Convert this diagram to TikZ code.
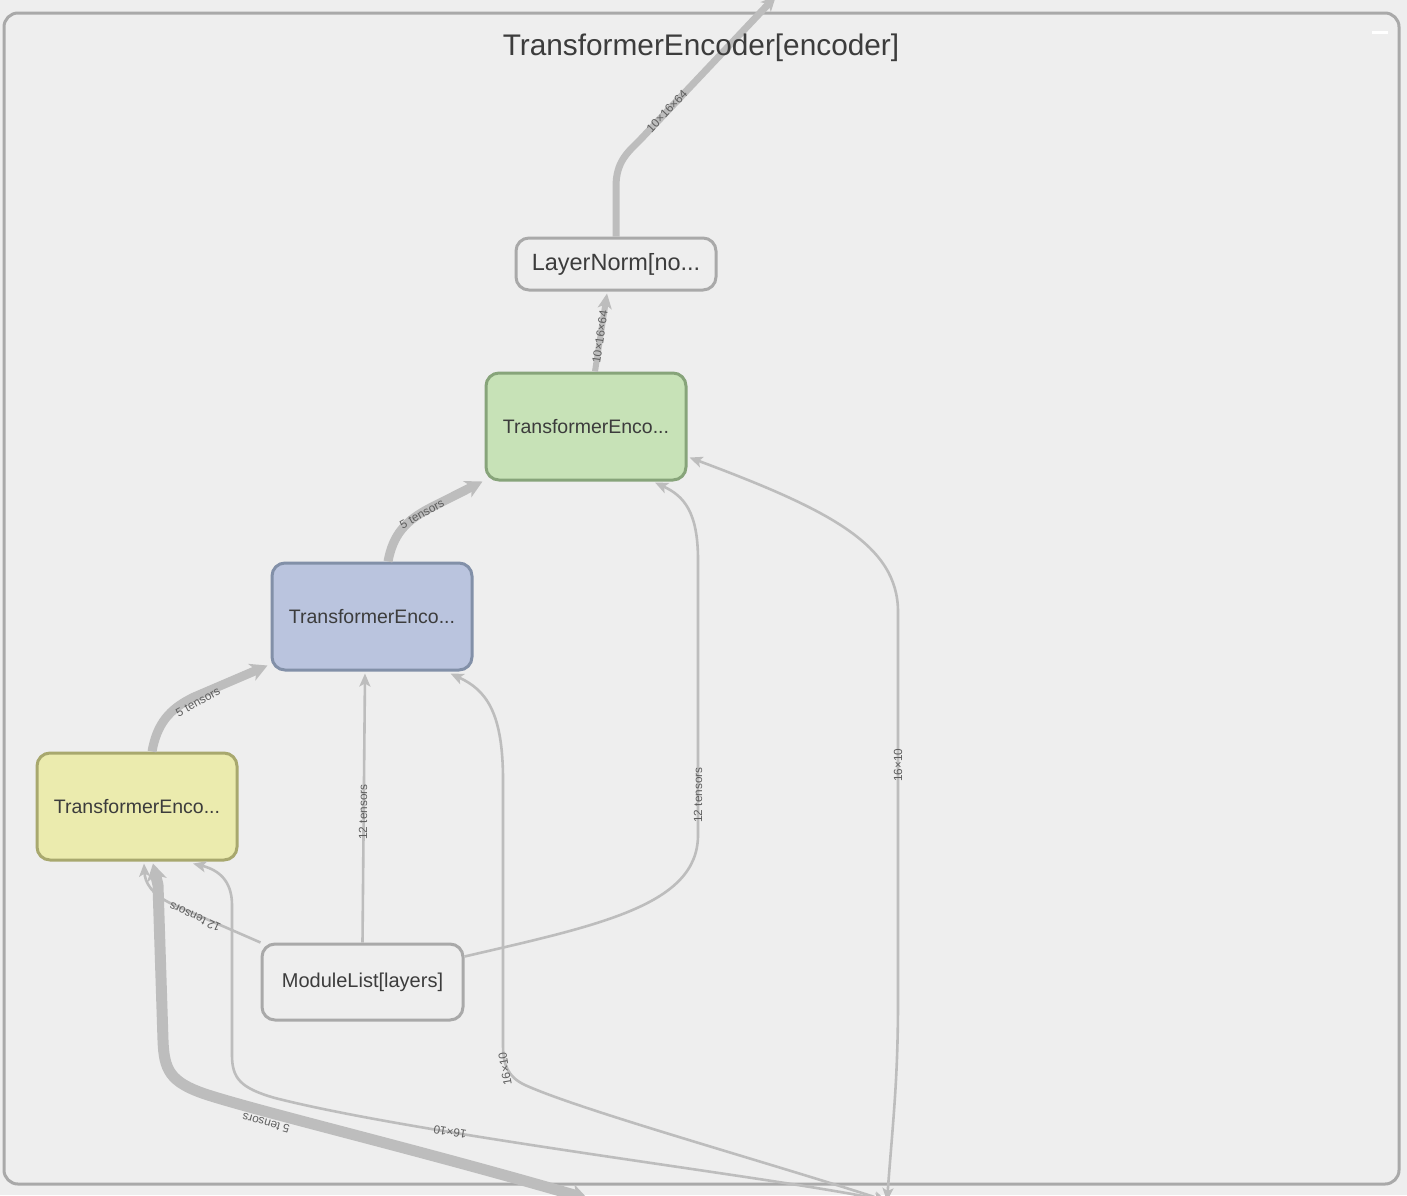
\documentclass[tikz,border=0pt]{standalone}
\usepackage{fontspec}
\setmainfont{Liberation Sans}
\usetikzlibrary{arrows.meta,calc}
\definecolor{bgc}{HTML}{EEEEEE}
\definecolor{framec}{HTML}{A9A9A9}
\definecolor{edgec}{HTML}{BDBDBD}
\definecolor{labelc}{HTML}{5E5E5E}
\definecolor{textc}{HTML}{3C3C3C}
\definecolor{greenf}{HTML}{C7E2B7}
\definecolor{greenb}{HTML}{87A47A}
\definecolor{bluef}{HTML}{BAC4DE}
\definecolor{blueb}{HTML}{8290A8}
\definecolor{yellowf}{HTML}{EBEBAE}
\definecolor{yellowb}{HTML}{A8A86E}
\tikzset{
  boxnode/.style={draw=framec, line width=3pt, rounded corners=13pt, inner sep=0pt,
    minimum width=200pt, text=textc},
  encnode/.style={boxnode, minimum height=107pt, font=\fontsize{19.5}{22}\selectfont},
  edgethin/.style={draw=edgec, line width=2.6pt,
    {Stealth[length=13pt,width=11pt,inset=3pt]}-{Stealth[length=13pt,width=11pt,inset=3pt]}},
  edgeonly/.style={draw=edgec, line width=2.6pt, -{Stealth[length=13pt,width=11pt,inset=3pt]}},
  edgemid/.style={draw=edgec, line width=6pt, -{Stealth[length=15pt,width=14pt,inset=4pt]}},
  edgewide/.style={draw=edgec, line width=9pt, -{Stealth[length=17pt,width=18pt,inset=5pt]}},
  edgefat/.style={draw=edgec, line width=11pt,
    {Stealth[length=17pt,width=20pt,inset=5pt]}-{Stealth[length=17pt,width=20pt,inset=5pt]}},
  elabel/.style={text=labelc, inner sep=0pt, font=\fontsize{11.8}{13}\selectfont}
}
\begin{document}
\begin{tikzpicture}[x=1pt,y=-1pt]
\useasboundingbox (0,0) rectangle (1407,1195);
\fill[bgc] (0,0) rectangle (1407,1195);
\begin{scope}
\clip (0,0) rectangle (1407,1195);

% group frame and collapse mark
\draw[framec, line width=3pt, rounded corners=14pt] (4,13) rectangle (1399,1184);
\fill[white] (1372,30.5) rectangle (1388,33.5);

% operation nodes
\node[boxnode, fill=bgc, minimum height=52pt, font=\fontsize{23.5}{26}\selectfont] (ln) at (616,264) {LayerNorm[no...};
\node[encnode, fill=greenf, draw=greenb] (enc2) at (586,426.5) {TransformerEnco...};
\node[encnode, fill=bluef, draw=blueb] (enc1) at (372,616.5) {TransformerEnco...};
\node[encnode, fill=yellowf, draw=yellowb] (enc0) at (137,806.5) {TransformerEnco...};
\node[boxnode, fill=bgc, minimum width=201pt, minimum height=76pt, font=\fontsize{20}{23}\selectfont] (ml) at (362.5,982) {ModuleList[layers]};

% free ends outside the group
\coordinate (outTop) at (776,-4);
\coordinate (inA) at (588,1199);
\coordinate (inB) at (887,1201);

% output of the group
\draw[edgemid, line width=7pt] (ln.north) -- ++(0,-50) .. controls +(0,-25) and +(-12,12) .. (640,140) -- (outTop);
\node[elabel, rotate=46.6] at (667,111) {10×16×64};

% title of the group, over the output edge
\node[text=textc, font=\fontsize{29.8}{34}\selectfont] (title) at (701,48) {TransformerEncoder[encoder]};

% layer norm input
\draw[edgemid] ($(enc2.north)+(9,0)$) -- ($(ln.south)+(-9,2)$);
\node[elabel, rotate=81.6] at (600,337) {10×16×64};

% chain of encoder layers
\draw[edgewide] ($(enc1.north)+(16,0)$) .. controls (393,535) and (405,521) .. (430,508) -- ($(enc2.south west)+(-2,0)$);
\node[elabel, rotate=29] at (422,514) {5 tensors};
\draw[edgewide] ($(enc0.north)+(15,0)$) .. controls (157,724) and (169,709) .. (194,697) -- ($(enc1.south west)+(-3,-6)$);
\node[elabel, rotate=29] at (198,702) {5 tensors};

% module list feeds
\draw[edgeonly] (ml.north) -- ($(enc1.south)+(-7,2)$);
\node[elabel, rotate=90] at (363,812) {12 tensors};
\draw[edgeonly] ($(ml.north east)+(0,14)$) .. controls (600,925) and (698,905) .. (698,835) -- (698,560) .. controls (698,512) and (684,496) .. ($(enc2.south)+(69,1)$);
\node[elabel, rotate=90] at (698,795) {12 tensors};
\draw[edgeonly] (ml.north west) -- (172,904) .. controls (151,894) and (145,882) .. ($(enc0.south)+(7,2)$);
\node[elabel, rotate=155] at (195,917) {12 tensors};

% group inputs
\draw[edgethin] (inB) .. controls (893,1120) and (898,1080) .. (898,1000) -- (898,612) .. controls (898,545) and (830,510) .. ($(enc2.east)+(2,31)$);
\node[elabel, rotate=90] at (898,765) {16×10};
\draw[edgethin] (inB) .. controls (760,1160) and (580,1110) .. (525,1085) .. controls (508,1077) and (503,1065) .. (503,1045) -- (503,780) .. controls (503,712) and (486,690) .. ($(enc1.south east)+(-23,2)$);
\node[elabel, rotate=100] at (505,1069) {16×10};
\draw[edgethin] (inB) .. controls (780,1178) and (420,1135) .. (275,1098) .. controls (240,1088) and (232,1078) .. (232,1055) -- (232,905) .. controls (232,881) and (219,870) .. ($(enc0.south)+(56,2)$);
\node[elabel, rotate=171] at (450,1132) {16×10};
\draw[edgefat] (inA) .. controls (420,1150) and (260,1112) .. (205,1094) .. controls (170,1082) and (164,1070) .. (163,1040) -- (158,885) -- ($(enc0.south)+(16,2)$);
\node[elabel, rotate=164] at (266,1123) {5 tensors};
\end{scope}
\end{tikzpicture}
\end{document}
